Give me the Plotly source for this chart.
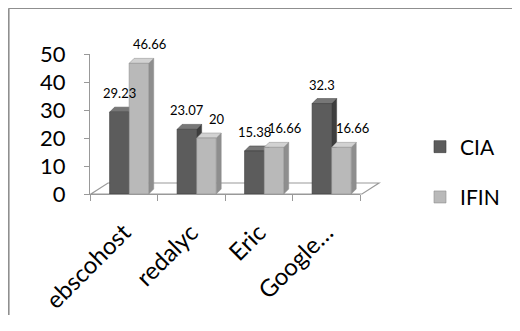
import plotly.graph_objects as go

categories = ["ebscohost", "redalyc", "Eric", "Google…"]
cia_values = [29.23, 23.07, 15.38, 32.3]
ifin_values = [46.66, 20, 16.66, 16.66]
y_ticks = [0, 10, 20, 30, 40, 50]

FONT = "Lato, Carlito, Calibri, sans-serif"
# the page body has an 8px margin; design in screen pixels and shift by OFF
OFF = 8
W, H = 520 - 2 * OFF, 331 - 2 * OFF - 8
PL, PR, PT, PB = 90, 360, 54, 194          # plot area in screen pixels
ML, MT = PL - OFF, PT - OFF
PW, PH = PR - PL, PB - PT
MR, MB = W - ML - PW, H - MT - PH

series = [
    dict(name="CIA", vals=cia_values, off=-0.21, front="#5c5c5c", top="#777777", side="#3e3e3e", xs=0),
    dict(name="IFIN", vals=ifin_values, off=0.08, front="#b9b9b9", top="#d2d2d2", side="#8e8e8e", xs=11),
]
BW = 0.29
DX = 5 / (PW / len(categories))   # depth offset in category units
DY = 5 / (PH / 50)                # depth offset in value units

fig = go.Figure()
for s in series:
    fig.add_trace(go.Bar(
        x=categories, y=s["vals"], name=s["name"], width=BW, offset=s["off"],
        marker=dict(color=s["front"], line=dict(color=s["side"], width=0.6)),
        legendgroup=s["name"],
    ))

def px(x):
    return (x - PL) / PW
def py(y):
    return (PB - y) / PH

shapes = []
shapes.append(dict(type="path", xref="paper", yref="paper",
                   path=f"M {px(91)},{py(194)} L {px(362)},{py(194)} L {px(379)},{py(183)} L {px(108)},{py(183)} Z",
                   fillcolor="white", line=dict(color="#9a9a9a", width=1.2), layer="below"))
for ci in range(len(categories)):
    for s in series:
        v = s["vals"][ci]
        x0 = ci + s["off"]
        x1 = x0 + BW
        shapes.append(dict(type="path", xref="x", yref="y", layer="below",
                           path=f"M {x1},0 L {x1+DX},{DY} L {x1+DX},{v+DY} L {x1},{v} Z",
                           fillcolor=s["side"], line=dict(color=s["side"], width=0.5)))
        shapes.append(dict(type="path", xref="x", yref="y", layer="below",
                           path=f"M {x0},{v} L {x1},{v} L {x1+DX},{v+DY} L {x0+DX},{v+DY} Z",
                           fillcolor=s["top"], line=dict(color=s["side"], width=0.5)))
# outer frame: only its top and left edges fall inside the picture
frame = dict(color="#8f8f8f", width=1.6)
shapes.append(dict(type="line", xref="paper", yref="paper",
                   x0=px(8.8), x1=px(530), y0=py(8.2), y1=py(8.2), line=frame))
shapes.append(dict(type="line", xref="paper", yref="paper",
                   x0=px(8.8), x1=px(8.8), y0=py(8.2), y1=py(340), line=frame))

annotations = []
for ci in range(len(categories)):
    for s in series:
        v = s["vals"][ci]
        annotations.append(dict(x=ci + s["off"] + BW / 2, y=v, xref="x", yref="y",
                                text=str(v), showarrow=False, yshift=19, xshift=s["xs"],
                                font=dict(family=FONT, size=13, color="black")))

fig.update_layout(
    width=W, height=H,
    margin=dict(l=ML, r=MR, t=MT, b=MB, autoexpand=False),
    paper_bgcolor="white", plot_bgcolor="white",
    barmode="overlay",
    shapes=shapes, annotations=annotations,
    showlegend=True,
    legend=dict(x=px(420), y=py(172), xanchor="left", yanchor="middle",
                font=dict(family=FONT, size=21, color="black"),
                tracegroupgap=20, bgcolor="rgba(0,0,0,0)"),
    xaxis=dict(type="category", range=[-0.5, 3.5], showline=True, linecolor="#999999", linewidth=1,
               ticks="outside", ticklen=6, tickcolor="#999999", tickson="boundaries",
               tickangle=-45, tickfont=dict(family=FONT, size=24, color="black"),
               ticklabelstandoff=14, showgrid=False, zeroline=False),
    yaxis=dict(range=[0, 50], tickvals=y_ticks, showline=True, linecolor="#999999", linewidth=1,
               ticks="outside", ticklen=5, tickcolor="#999999",
               tickfont=dict(family=FONT, size=22, color="black"), ticklabelstandoff=14,
               showgrid=False, zeroline=False),
)

fig.write_html("out.html")
